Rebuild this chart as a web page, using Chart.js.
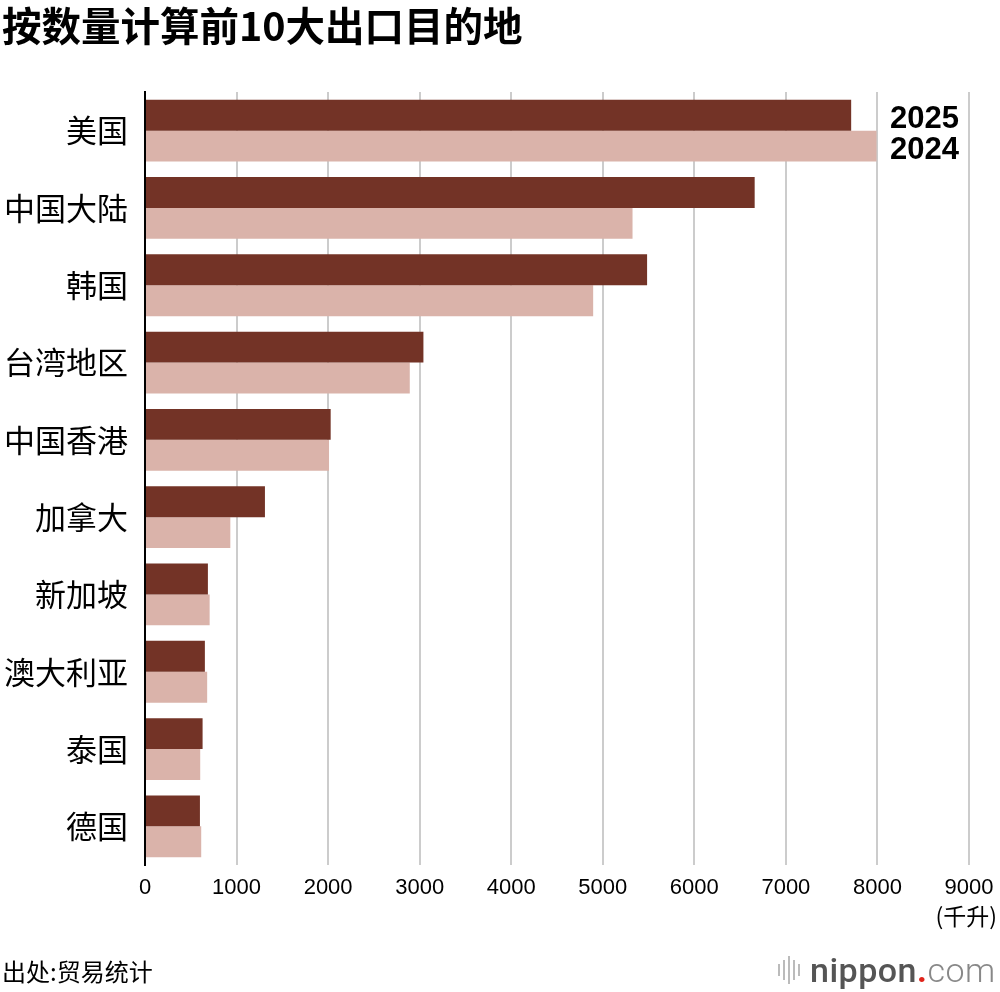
<!DOCTYPE html>
<html>
<head>
<meta charset="utf-8">
<script src="https://cdn.jsdelivr.net/npm/chart.js@4"></script>
<style>
  body { margin: 0; background: #fff; }
  #wrap { position: relative; width: 1000px; height: 992px; overflow: hidden; }
  #title { position: absolute; left: 2px; top: 4px; font: bold 39.5px "Noto Sans CJK SC"; line-height: 1; color: #000; white-space: nowrap; }
  #chartBox { position: absolute; left: 0; top: 0; width: 1000px; height: 992px; }
  #unit { position: absolute; right: 3px; top: 898px; font: 23px "Noto Sans CJK SC"; color: #000; }
  #source { position: absolute; left: 2px; top: 953px; font: 24px "Noto Sans CJK SC"; color: #000; }
  #logo { position: absolute; left: 778px; top: 950px; height: 40px; display: flex; align-items: center; }
  #logo .bars { display: flex; align-items: center; gap: 3px; margin-right: 10px; }
  #logo .bars div { width: 2px; background: #bbb; }
  #logo .txt { font: 34px Roboto; color: #555; letter-spacing: 0.5px; }
</style>
</head>
<body>
<div id="wrap">
  <div id="chartBox"><canvas id="chart"></canvas></div>
  <div id="title">按数量计算前10大出口目的地</div>
  <div id="unit">(千升)</div>
  <div id="source">出处:贸易统计</div>
  <div id="logo">
    <div class="bars">
      <div style="height:12px"></div><div style="height:20px"></div><div style="height:28px"></div><div style="height:20px"></div><div style="height:12px"></div>
    </div>
    <span class="txt"><span style="font-weight:500">nippon</span><span style="color:#e0241b;font-weight:700">.</span><span style="font-weight:300;color:#888">com</span></span>
  </div>
</div>
<script>
// 出口目的地（千升）
const destinations = ['美国', '中国大陆', '韩国', '台湾地区', '中国香港', '加拿大', '新加坡', '澳大利亚', '泰国', '德国'];
const exports2025 = [7713, 6659, 5484, 3041, 2028, 1310, 687, 654, 629, 600];
const exports2024 = [7990, 5325, 4895, 2892, 2010, 932, 706, 679, 603, 614];
const seriesNames = ['2025', '2024'];
const xTicks = [0, 1000, 2000, 3000, 4000, 5000, 6000, 7000, 8000, 9000];

// 2025 / 2024 labels next to the first pair of bars
const yearLabels = {
  id: 'yearLabels',
  afterDatasetsDraw(chart) {
    const ctx = chart.ctx;
    ctx.save();
    ctx.font = 'bold 31px "Liberation Sans", Arial, sans-serif';
    ctx.fillStyle = '#000';
    ctx.textAlign = 'left';
    ctx.textBaseline = 'middle';
    chart.data.datasets.forEach((ds, i) => {
      const bar = chart.getDatasetMeta(i).data[0];
      ctx.fillText(ds.label, 890, bar.y + 4);
    });
    ctx.restore();
  }
};

new Chart(document.getElementById('chart'), {
  type: 'bar',
  data: {
    labels: destinations,
    datasets: [
      { label: seriesNames[0], data: exports2025, backgroundColor: '#733326' },
      { label: seriesNames[1], data: exports2024, backgroundColor: '#dab3aa' }
    ]
  },
  options: {
    indexAxis: 'y',
    responsive: true,
    maintainAspectRatio: false,
    animation: false,
    categoryPercentage: 0.8,
    barPercentage: 1.0,
    layout: { padding: { top: 92, right: 31, left: 0, bottom: 0 } },
    plugins: { legend: { display: false }, tooltip: { enabled: false } },
    scales: {
      x: {
        min: 0,
        max: 9000,
        afterBuildTicks: axis => { axis.ticks = xTicks.map(v => ({ value: v })); },
        afterFit: axis => {
          axis.height = 127;
          axis.paddingLeft = 0;
          axis.paddingRight = 0;
        },
        grid: { color: '#cccccc', lineWidth: 2, drawTicks: false },
        border: { display: false },
        ticks: {
          padding: 10,
          color: '#000',
          font: { family: '"Liberation Sans", sans-serif', size: 22 },
          maxRotation: 0,
          callback: v => String(v)
        }
      },
      y: {
        afterFit: axis => { axis.width = 145; },
        grid: { display: false, drawTicks: false },
        border: { display: true, color: '#000', width: 2 },
        ticks: {
          padding: 17,
          color: '#000',
          font: { family: '"Noto Sans CJK SC", sans-serif', size: 31 }
        }
      }
    }
  },
  plugins: [yearLabels]
});
</script>
</body>
</html>
